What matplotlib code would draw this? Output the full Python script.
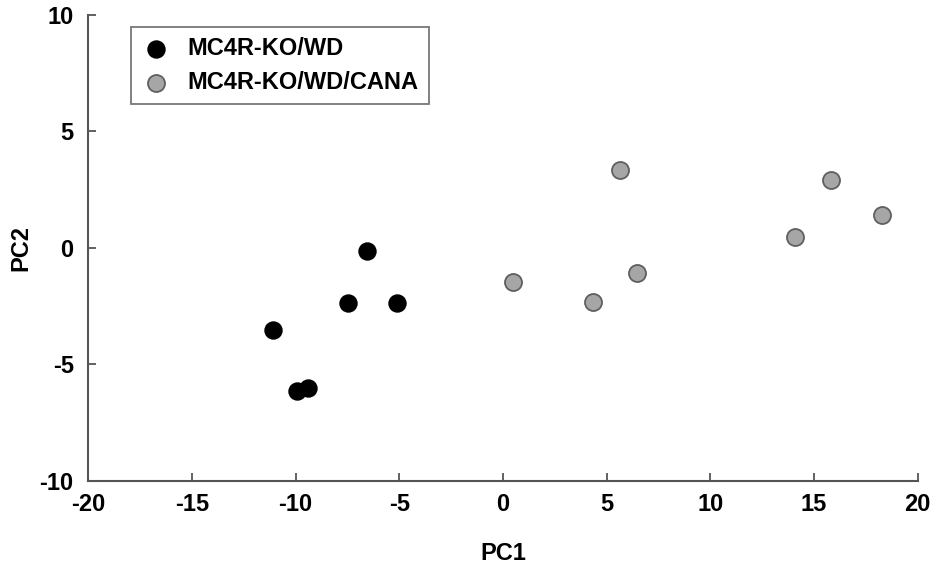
import matplotlib.pyplot as plt

plt.rcParams['font.family'] = ['Liberation Sans', 'DejaVu Sans']
plt.rcParams['font.weight'] = 'bold'
plt.rcParams['axes.unicode_minus'] = False

# PCA scores
wd_pc1 = [-6.57, -7.46, -5.13, -11.11, -9.95, -9.42]
wd_pc2 = [-0.12, -2.35, -2.35, -3.52, -6.14, -6.00]

cana_pc1 = [0.47, 4.36, 5.64, 6.48, 14.08, 15.83, 18.26]
cana_pc2 = [-1.46, -2.33, 3.33, -1.09, 0.47, 2.92, 1.43]

labels = ["MC4R-KO/WD", "MC4R-KO/WD/CANA"]

fig = plt.figure(figsize=(9.33, 5.65), dpi=100)
ax = fig.add_axes([0.0946, 0.1487, 0.889, 0.8248])

ax.scatter(wd_pc1, wd_pc2, s=150, c="#000000", edgecolors="#000000",
           linewidths=1, label=labels[0], zorder=3)
ax.scatter(cana_pc1, cana_pc2, s=150, c="#a6a6a6", edgecolors="#5f5f5f",
           linewidths=1.3, label=labels[1], zorder=3)

ax.set_xlim(-20, 20)
ax.set_ylim(-10, 10)
ax.set_xticks(range(-20, 21, 5))
ax.set_yticks(range(-10, 11, 5))

for side in ["top", "right"]:
    ax.spines[side].set_visible(False)
for side in ["left", "bottom"]:
    ax.spines[side].set_color("#555555")
    ax.spines[side].set_linewidth(1.5)

ax.tick_params(direction="in", length=6, width=1.3, color="#555555",
               labelsize=17)
ax.tick_params(axis="x", pad=9)
ax.tick_params(axis="y", pad=10.5)

ax.set_xlabel("PC1", fontsize=17, fontweight="bold")
ax.set_ylabel("PC2", fontsize=17, fontweight="bold")
ax.xaxis.set_label_coords(0.5, -0.13)
ax.yaxis.set_label_coords(-0.067, 0.5)

leg = ax.legend(loc="upper left", bbox_to_anchor=(0.052, 0.975),
                frameon=True, fancybox=False, edgecolor="#555555",
                handlelength=1.2, handletextpad=0.7, borderpad=0.45,
                labelspacing=0.45, borderaxespad=0,
                prop={"weight": "bold", "size": 17})
leg.get_frame().set_linewidth(1.3)

fig.savefig("out.png", dpi=100)
